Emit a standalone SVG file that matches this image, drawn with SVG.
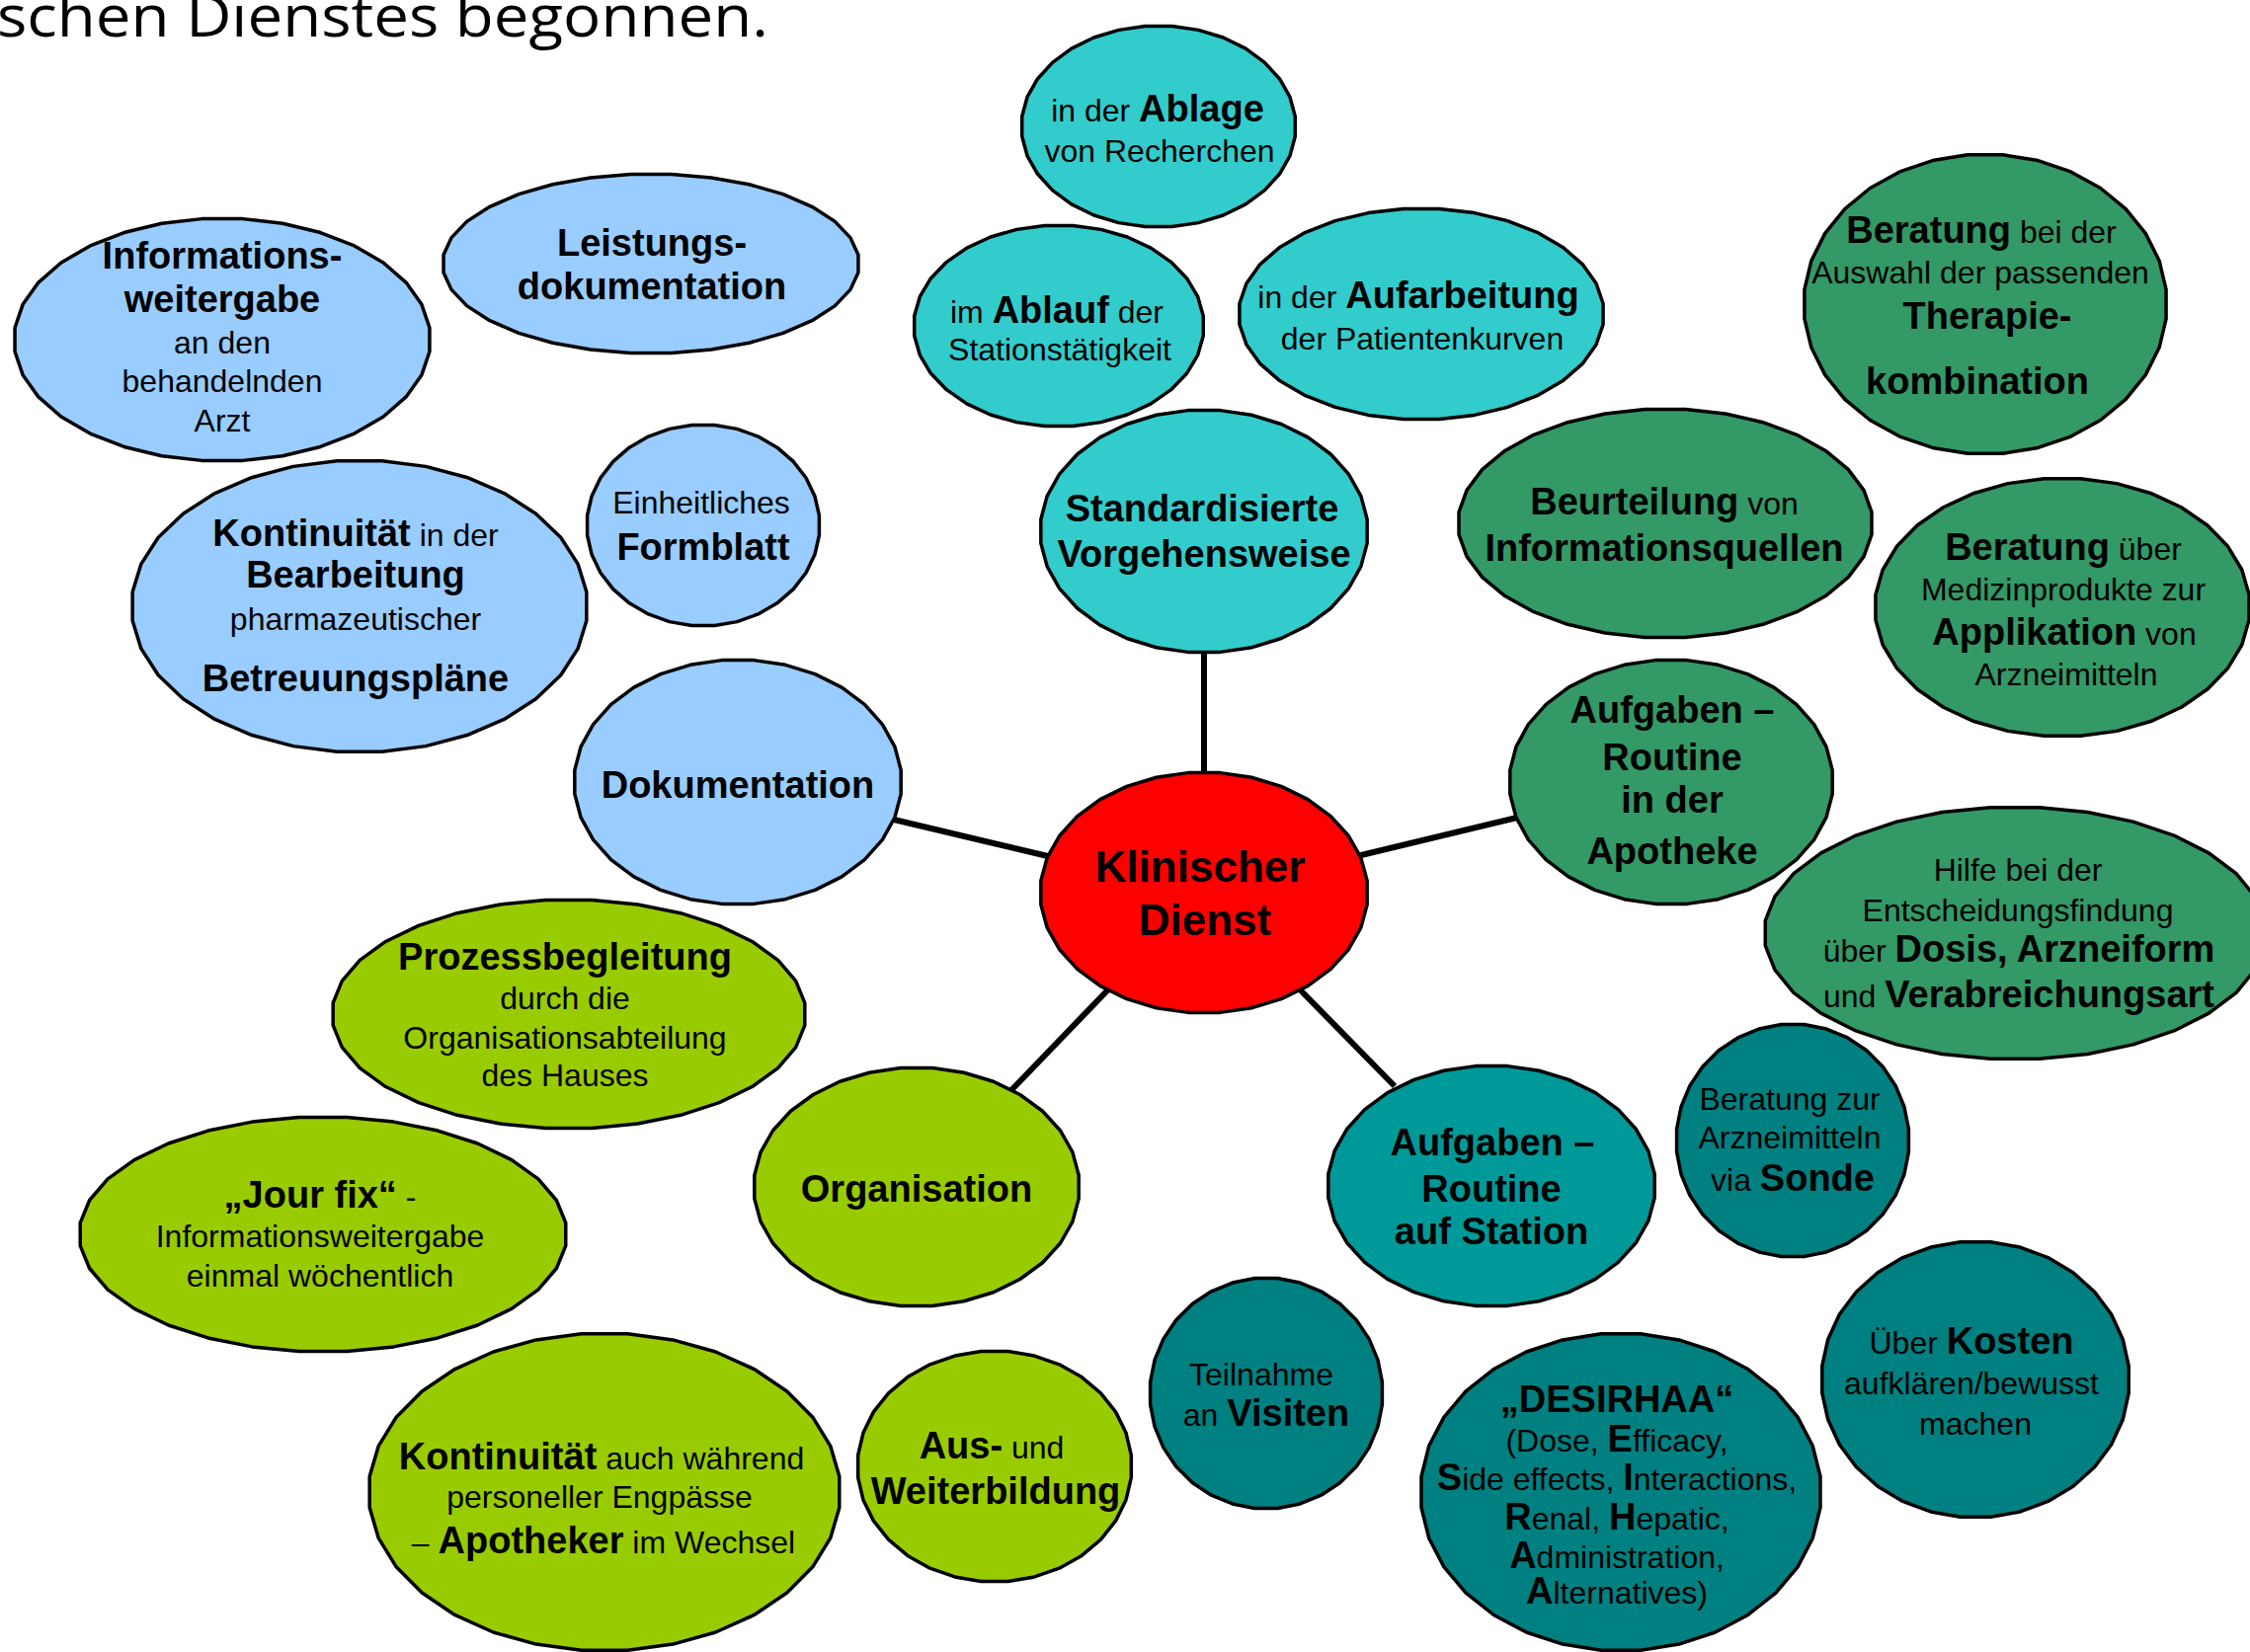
<svg xmlns="http://www.w3.org/2000/svg" xmlns:xlink="http://www.w3.org/1999/xlink" width="2278" height="1673" viewBox="0 0 2278 1673">
<style>
.nd{stroke:#000;stroke-width:3.5;stroke-linejoin:round}
.lb{fill:#99CCFF}.cy{fill:#33CCCC}.gr{fill:#339966}.rd{fill:#FF0000}.lm{fill:#99CC00}.tl{fill:#009999}.dt{fill:#008080}
.cn line{stroke:#000;stroke-width:6}
text{font-family:"Liberation Sans",Arial,sans-serif;text-anchor:middle;fill:#000}
.b{font-weight:bold;font-size:38px}
.r{font-weight:normal;font-size:32px}
.k{font-weight:bold;font-size:44px}
.title{font-family:"Open Sans","Noto Sans",sans-serif;font-size:58px;text-anchor:start}
</style>
<defs>
<polygon id="blob" vector-effect="non-scaling-stroke" points="99.5,9.8 95.7,29 88.2,47.1 77.3,63.4 63.4,77.3 47.1,88.2 29,95.7 9.8,99.5 -9.8,99.5 -29,95.7 -47.1,88.2 -63.4,77.3 -77.3,63.4 -88.2,47.1 -95.7,29 -99.5,9.8 -99.5,-9.8 -95.7,-29 -88.2,-47.1 -77.3,-63.4 -63.4,-77.3 -47.1,-88.2 -29,-95.7 -9.8,-99.5 9.8,-99.5 29,-95.7 47.1,-88.2 63.4,-77.3 77.3,-63.4 88.2,-47.1 95.7,-29 99.5,-9.8"/>
</defs>
<rect width="2278" height="1673" fill="#fff"/>
<text class="title" x="-3" y="37" textLength="781" lengthAdjust="spacingAndGlyphs">schen Dienstes begonnen.</text>

<g id="connectors" class="cn">
<line x1="1219" y1="655" x2="1219" y2="790"/>
<line x1="905" y1="830" x2="1065" y2="868"/>
<line x1="1374" y1="867" x2="1540" y2="827"/>
<line x1="1126" y1="998" x2="1024" y2="1104"/>
<line x1="1313" y1="999" x2="1412" y2="1100"/>
</g>

<g id="n-info"><use href="#blob" class="nd lb" transform="translate(225,344) scale(2.11,1.23)"/>
<text x="225" y="272" class="b">Informations-</text>
<text x="225" y="316" class="b">weitergabe</text>
<text x="225" y="358" class="r">an den</text>
<text x="225" y="397" class="r">behandelnden</text>
<text x="225" y="437" class="r">Arzt</text></g>

<g id="n-leistung"><use href="#blob" class="nd lb" transform="translate(659,267) scale(2.11,0.91)"/>
<text x="660" y="259" class="b">Leistungs-</text>
<text x="660" y="303" class="b">dokumentation</text></g>

<g id="n-kontinuitaet1"><use href="#blob" class="nd lb" transform="translate(364,614) scale(2.31,1.48)"/>
<text x="360" y="553" class="r"><tspan class="b">Kontinuität</tspan> in der</text>
<text x="360" y="595" class="b">Bearbeitung</text>
<text x="360" y="638" class="r">pharmazeutischer</text>
<text x="360" y="700" class="b">Betreuungspläne</text></g>

<g id="n-formblatt"><use href="#blob" class="nd lb" transform="translate(712,532) scale(1.18,1.02)"/>
<text x="710" y="520" class="r">Einheitliches</text>
<text x="712" y="567" class="b">Formblatt</text></g>

<g id="n-doku"><use href="#blob" class="nd lb" transform="translate(747,792) scale(1.66,1.24)"/>
<text x="747" y="808" class="b">Dokumentation</text></g>

<g id="n-ablage"><use href="#blob" class="nd cy" transform="translate(1173,128) scale(1.39,1.02)"/>
<text x="1172" y="123" class="r">in der <tspan class="b">Ablage</tspan></text>
<text x="1174" y="164" class="r">von Recherchen</text></g>

<g id="n-ablauf"><use href="#blob" class="nd cy" transform="translate(1072,330) scale(1.47,1.02)"/>
<text x="1070" y="327" class="r">im <tspan class="b">Ablauf</tspan> der</text>
<text x="1073" y="365" class="r">Stationstätigkeit</text></g>

<g id="n-aufarbeitung"><use href="#blob" class="nd cy" transform="translate(1439,318) scale(1.85,1.07)"/>
<text x="1436" y="312" class="r">in der <tspan class="b">Aufarbeitung</tspan></text>
<text x="1440" y="354" class="r">der Patientenkurven</text></g>

<g id="n-standard"><use href="#blob" class="nd cy" transform="translate(1219,538) scale(1.66,1.23)"/>
<text x="1217" y="528" class="b">Standardisierte</text>
<text x="1219" y="574" class="b">Vorgehensweise</text></g>

<g id="n-beurteilung"><use href="#blob" class="nd gr" transform="translate(1686,530) scale(2.10,1.16)"/>
<text x="1685" y="521" class="r"><tspan class="b">Beurteilung</tspan> von</text>
<text x="1685" y="568" class="b">Informationsquellen</text></g>

<g id="n-beratung1"><use href="#blob" class="nd gr" transform="translate(2010,308) scale(1.84,1.52)"/>
<text x="2006" y="246" class="r"><tspan class="b">Beratung</tspan> bei der</text>
<text x="2005" y="287" class="r">Auswahl der passenden</text>
<text x="2012" y="333" class="b">Therapie-</text>
<text x="2002" y="399" class="b">kombination</text></g>

<g id="n-beratung2"><use href="#blob" class="nd gr" transform="translate(2088,615) scale(1.90,1.31)"/>
<text x="2089" y="567" class="r"><tspan class="b">Beratung</tspan> über</text>
<text x="2089" y="608" class="r">Medizinprodukte zur</text>
<text x="2090" y="653" class="r"><tspan class="b">Applikation</tspan> von</text>
<text x="2092" y="694" class="r">Arzneimitteln</text></g>

<g id="n-apotheke"><use href="#blob" class="nd gr" transform="translate(1692,792) scale(1.64,1.24)"/>
<text x="1693" y="732" class="b">Aufgaben –</text>
<text x="1693" y="780" class="b">Routine</text>
<text x="1693" y="823" class="b">in der</text>
<text x="1693" y="875" class="b">Apotheke</text></g>

<g id="n-hilfe"><use href="#blob" class="nd gr" transform="translate(2040,945) scale(2.54,1.28)"/>
<text x="2043" y="892" class="r">Hilfe bei der</text>
<text x="2043" y="933" class="r">Entscheidungsfindung</text>
<text x="2044" y="974" class="r">über <tspan class="b">Dosis, Arzneiform</tspan></text>
<text x="2044" y="1020" class="r">und <tspan class="b">Verabreichungsart</tspan></text></g>

<g id="n-klinisch"><use href="#blob" class="nd rd" transform="translate(1219,904) scale(1.66,1.22)"/>
<text x="1215" y="893" class="k">Klinischer</text>
<text x="1220" y="947" class="k">Dienst</text></g>

<g id="n-prozess"><use href="#blob" class="nd lm" transform="translate(576,1027) scale(2.40,1.16)"/>
<text x="572" y="982" class="b">Prozessbegleitung</text>
<text x="572" y="1022" class="r">durch die</text>
<text x="572" y="1062" class="r">Organisationsabteilung</text>
<text x="572" y="1100" class="r">des Hauses</text></g>

<g id="n-organisation"><use href="#blob" class="nd lm" transform="translate(928,1202) scale(1.65,1.21)"/>
<text x="928" y="1217" class="b">Organisation</text></g>

<g id="n-jourfix"><use href="#blob" class="nd lm" transform="translate(327,1250) scale(2.47,1.19)"/>
<text x="324" y="1223" class="r"><tspan class="b">„Jour fix“</tspan> -</text>
<text x="324" y="1263" class="r">Informationsweitergabe</text>
<text x="324" y="1303" class="r">einmal wöchentlich</text></g>

<g id="n-kontinuitaet2"><use href="#blob" class="nd lm" transform="translate(612,1511) scale(2.39,1.61)"/>
<text x="609" y="1488" class="r"><tspan class="b">Kontinuität</tspan> auch während</text>
<text x="607" y="1527" class="r">personeller Engpässe</text>
<text x="611" y="1573" class="r">– <tspan class="b">Apotheker</tspan> im Wechsel</text></g>

<g id="n-ausweiter"><use href="#blob" class="nd lm" transform="translate(1007,1485) scale(1.39,1.17)"/>
<text x="1004" y="1477" class="r"><tspan class="b">Aus-</tspan> und</text>
<text x="1008" y="1523" class="b">Weiterbildung</text></g>

<g id="n-station"><use href="#blob" class="nd tl" transform="translate(1510,1201) scale(1.66,1.22)"/>
<text x="1511" y="1170" class="b">Aufgaben –</text>
<text x="1510" y="1217" class="b">Routine</text>
<text x="1510" y="1260" class="b">auf Station</text></g>

<g id="n-sonde"><use href="#blob" class="nd dt" transform="translate(1815,1155) scale(1.18,1.18)"/>
<text x="1812" y="1124" class="r">Beratung zur</text>
<text x="1812" y="1163" class="r">Arzneimitteln</text>
<text x="1815" y="1206" class="r">via <tspan class="b">Sonde</tspan></text></g>

<g id="n-visiten"><use href="#blob" class="nd dt" transform="translate(1282,1411) scale(1.18,1.17)"/>
<text x="1277" y="1403" class="r">Teilnahme</text>
<text x="1282" y="1444" class="r">an <tspan class="b">Visiten</tspan></text></g>

<g id="n-desirhaa"><use href="#blob" class="nd dt" transform="translate(1641,1511) scale(2.03,1.61)"/>
<text x="1637" y="1430" class="b">„DESIRHAA“</text>
<text x="1637" y="1470" class="r">(Dose, <tspan class="b">E</tspan>fficacy,</text>
<text x="1637" y="1509" class="r"><tspan class="b">S</tspan>ide effects, <tspan class="b">I</tspan>nteractions,</text>
<text x="1637" y="1549" class="r"><tspan class="b">R</tspan>enal, <tspan class="b">H</tspan>epatic,</text>
<text x="1637" y="1588" class="r"><tspan class="b">A</tspan>dministration,</text>
<text x="1637" y="1624" class="r"><tspan class="b">A</tspan>lternatives)</text></g>

<g id="n-kosten"><use href="#blob" class="nd dt" transform="translate(2000,1397) scale(1.56,1.40)"/>
<text x="1996" y="1371" class="r">Über <tspan class="b">Kosten</tspan></text>
<text x="1996" y="1412" class="r">aufklären/bewusst</text>
<text x="2000" y="1453" class="r">machen</text></g>
</svg>
